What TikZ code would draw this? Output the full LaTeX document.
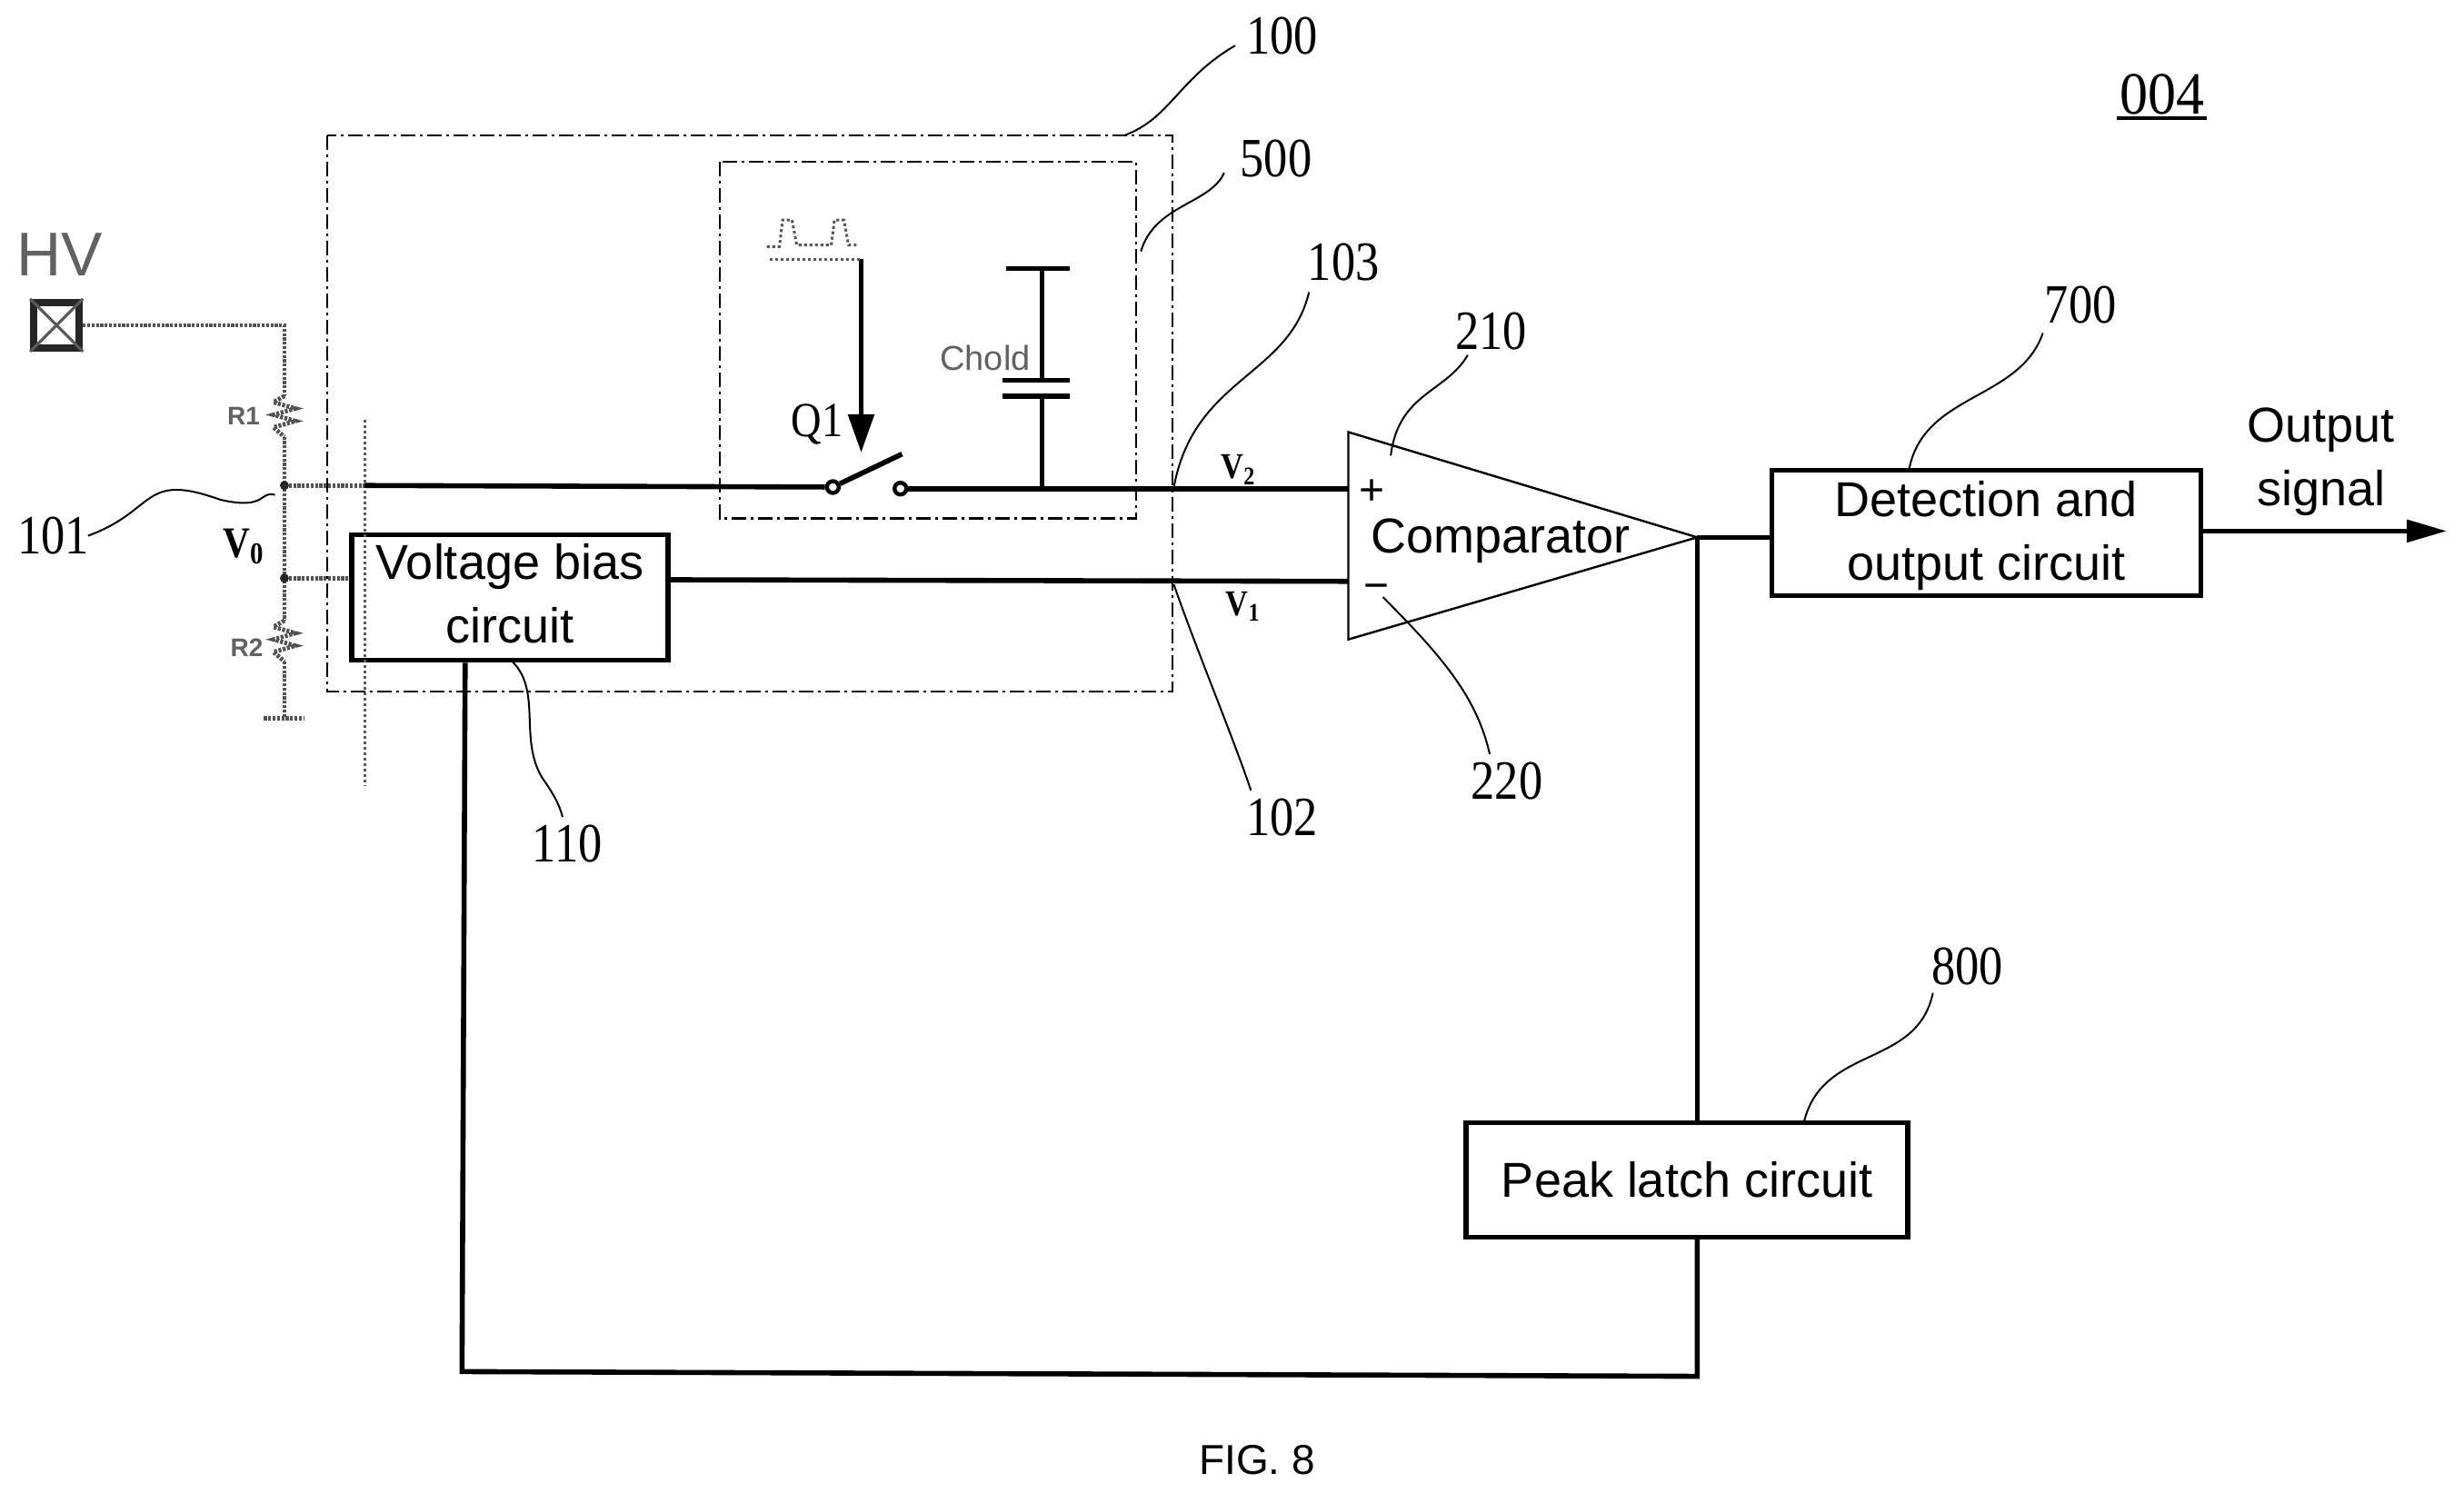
\documentclass[tikz,border=0pt]{standalone}
\usepackage{fontspec}
\setmainfont{Liberation Sans}
\newfontfamily\numfont[FakeStretch=0.86]{Liberation Serif}
\newfontfamily\titlefont[FakeStretch=0.94]{Liberation Serif}
\usetikzlibrary{arrows.meta,calc}
\tikzset{
  blockbox/.style={draw,line width=2.6pt,align=center,inner sep=0pt,font=\fontsize{27}{35}\selectfont},
  wire/.style={line width=2.8pt},
  leader/.style={line width=1pt},
  frame/.style={line width=1.1pt,dash pattern=on 8pt off 2.5pt on 1.5pt off 2.5pt},
  faint/.style={draw=black!68,line width=2.4pt,dash pattern=on 1.6pt off .8pt},
  faintthin/.style={draw=black!65,line width=1.5pt,dash pattern=on 1.6pt off 1.4pt},
  num/.style={font=\numfont\fontsize{30.5}{30}\selectfont,inner sep=0pt},
  bsub/.style={font=\numfont\bfseries\fontsize{20}{20}\selectfont,inner sep=0pt},
  fainttext/.style={text=black!62,inner sep=0pt},
  terminal/.style={circle,draw,line width=2.2pt,fill=white,inner sep=0pt,minimum size=6.5pt},
  junction/.style={circle,fill=black!85,inner sep=0pt,minimum size=5pt}
}
\begin{document}
\begin{tikzpicture}[x=0.8645pt,y=-0.8645pt]
\useasboundingbox (0,0) rectangle (1568,950);
% dash-dot frames
\draw[frame] (208,86) rectangle (746,440);
\draw[frame] (458,103) rectangle (723,330);
% blocks
\node[blockbox,minimum width=174pt,minimum height=69pt] (bias) at (324.5,380.5) {Voltage bias\\circuit\\[-30pt]\mbox{}};
\node[blockbox,minimum width=236pt,minimum height=69pt] (det) at (1264,339) {\rule{0pt}{23.2pt}Detection and\\output circuit};
\node[blockbox,minimum width=243pt,minimum height=63pt] (peak) at (1073.5,751) {Peak latch circuit};
% comparator
\coordinate (ca) at (858,275);
\coordinate (cb) at (858,407);
\coordinate (cc) at (1080,342);
\draw[line width=1.2pt] (ca) -- (cc) -- (cb) -- cycle;
\node[inner sep=0,font=\fontsize{27}{30}\selectfont] (cmp) at (955,344) {Comparator};
\node[inner sep=0,font=\fontsize{24}{24}\selectfont] (plus) at (873,313) {+};
\node[inner sep=0,font=\fontsize{24}{24}\selectfont] (minus) at (876,377) {−};
% faint high-voltage network
\node[draw=black!85,line width=4pt,minimum size=25pt,inner sep=0] (hv) at (36,207) {};
\draw[black!65,line width=1.6pt] (hv.north west) -- (hv.south east) (hv.north east) -- (hv.south west);
\node[fainttext,font=\fontsize{34}{34}\selectfont] (hvt) at (38,162) {HV};
\coordinate (r1t) at (181,252);
\coordinate (r1b) at (181,278);
\coordinate (n0) at (181,309);
\coordinate (n1) at (181,368);
\coordinate (r2t) at (181,395);
\coordinate (r2b) at (181,421);
\coordinate (gnd) at (181,457);
\coordinate (vbar1) at (232,267);
\coordinate (vbar2) at (232,500);
\coordinate (in) at (232,309);
\draw[faint] (hv.east) -| (r1t);
\draw[faint] (r1t) -- ++(-7,4) -- ++(14,4) -- ++(-14,4) -- ++(14,4) -- ++(-14,4) -- ++(7,6);
\draw[faint] (r1b) -- (n0) -- (n1) -- (r2t);
\draw[faint] (r2t) -- ++(-7,4) -- ++(14,4) -- ++(-14,4) -- ++(14,4) -- ++(-14,4) -- ++(7,6);
\draw[faint] (r2b) -- (gnd);
\draw[faint] ($(gnd)+(-13,0)$) -- ($(gnd)+(12,0)$);
\draw[faint] (n0) -- (in);
\draw[faint] (n1) -- (n1 -| bias.west);
\draw[faintthin] (vbar1) -- (vbar2);
\node[junction] (j0) at (n0) {};
\node[junction] (j1) at (n1) {};
\node[fainttext,font=\bfseries\fontsize{14}{14}\selectfont] (r1l) at (155,265) {R1};
\node[fainttext,font=\bfseries\fontsize{14}{14}\selectfont] (r2l) at (157,412) {R2};
\node[inner sep=0,font=\numfont\bfseries\fontsize{24}{24}\selectfont] (v0) at (155,348) {V\textsubscript{0}};
% switch and capacitor
\node[terminal] (s1) at (530,310) {};
\node[terminal] (s2) at (573,311) {};
\draw[wire] (in) -- (s1);
\draw[wire] (s1) -- (574,289);
\coordinate (cplus) at (858,311);
\coordinate (capj) at (663,311);
\draw[wire] (s2) -- (capj) -- (cplus);
\draw[wire] (capj) -- (663,252) coordinate (capl);
\draw[wire] (capl -| 638,0) -- (capl -| 681,0);
\draw[wire] (638,242) -- (681,242);
\draw[wire] (663,242) -- (663,171);
\draw[wire] (640,171) -- (681,171);
\node[fainttext,font=\fontsize{19}{19}\selectfont] (chold) at (627,228) {Chold};
\coordinate (ctl) at (548,165);
\draw[line width=2.8pt,-{Triangle[length=21pt,width=14pt]}] (ctl) -- (548,288);
\draw[faintthin] (488,157) -- (496,157) -- (498,140) -- (504,140) -- (507,156) -- (529,156) -- (531,140) -- (537,140) -- (540,156) -- (546,156);
\draw[faintthin] (ctl -| 490,0) -- (ctl);
\node[inner sep=0,font=\numfont\fontsize{27}{27}\selectfont] (q1) at (520,270) {Q1};
% main signal wires
\coordinate (cminus) at (858,370);
\draw[wire] (bias.east |- 0,369) -- (cminus);
\draw[wire] (cc) -- (cc -| det.west);
\coordinate (outend) at (1557,338);
\draw[wire,-{Triangle[length=22pt,width=12pt]}] (det.east |- outend) -- (outend);
\draw[wire] (cc) -- (cc |- peak.north);
\draw[wire] (peak.south -| cc) -- (1080,876) -- (294,873) -- (bias.south -| 296,0);
\node[bsub] (v2) at (788,299) {V\textsubscript{2}};
\node[bsub] (v1) at (791,386) {V\textsubscript{1}};
% labels
\node[inner sep=0,align=center,font=\fontsize{27}{34.6}\selectfont] (outl) at (1477,294) {Output\\signal};
\node[num] (n100) at (816,23) {100};
\node[num] (n500) at (812,101) {500};
\node[num] (n103) at (855,167) {103};
\node[num] (n210) at (949,211) {210};
\node[num] (n700) at (1324,194) {700};
\node[num] (n800) at (1252,615) {800};
\node[num] (n110) at (361,537) {110};
\node[num] (n102) at (816,520) {102};
\node[num] (n220) at (959,497) {220};
\node[num] (n101) at (34,341) {101};
\node[font=\titlefont\fontsize{33}{33}\selectfont,inner sep=0] (n004) at (1376,60) {004};
\draw[line width=2pt] ($(n004.south west)+(-2,2)$) -- ($(n004.south east)+(1,2)$);
\node[inner sep=0,font=\fontsize{23}{23}\selectfont] (fig) at (800,929) {FIG. 8};
% leaders
\draw[leader] (716,86) .. controls (745,75) and (750,50) .. (786,29);
\draw[leader] (726,160) .. controls (735,130) and (770,130) .. (779,110);
\draw[leader] (747,310) .. controls (760,240) and (820,240) .. (833,186);
\draw[leader] (885,290) .. controls (890,250) and (920,250) .. (934,226);
\draw[leader] (1215,298) .. controls (1225,250) and (1285,255) .. (1300,212);
\draw[leader] (1148,714) .. controls (1160,665) and (1220,680) .. (1230,632);
\draw[leader] (326,421) .. controls (345,440) and (330,470) .. (345,495) .. controls (352,505) and (356,512) .. (358,520);
\draw[leader] (747,372) .. controls (760,410) and (785,470) .. (796,503);
\draw[leader] (880,380) .. controls (920,420) and (940,445) .. (948,480);
\draw[leader] (56,341) .. controls (100,325) and (90,300) .. (140,318) .. controls (170,325) and (165,312) .. (175,315);
\end{tikzpicture}
\end{document}
